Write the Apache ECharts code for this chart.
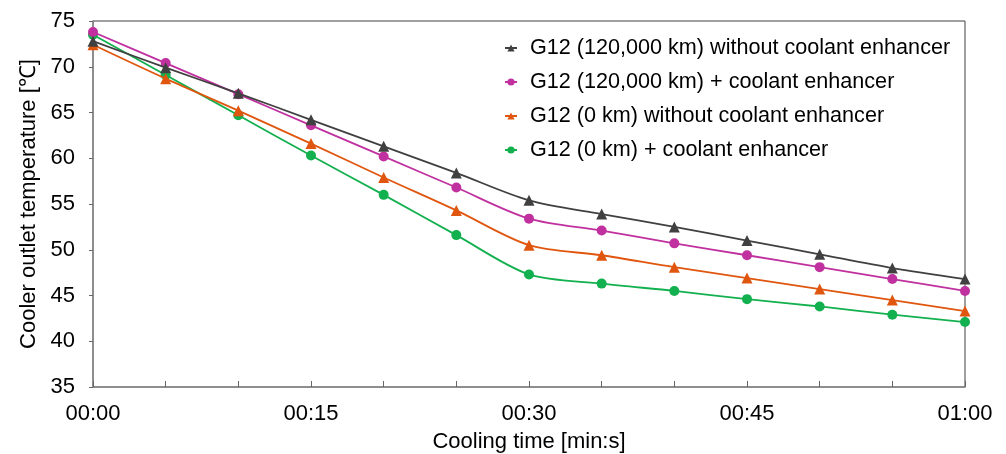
<!DOCTYPE html>
<html>
<head>
<meta charset="utf-8">
<script src="https://cdn.jsdelivr.net/npm/echarts@6/dist/echarts.min.js"></script>
<style>
html,body{margin:0;padding:0;background:#fff;}
#chart{width:1006px;height:454px;}
</style>
</head>
<body>
<div id="chart"></div>
<script>
// cooling time in seconds
var times = [0, 5, 10, 15, 20, 25, 30, 35, 40, 45, 50, 55, 60];
var names = [
	'G12 (120,000 km) without coolant enhancer',
	'G12 (120,000 km) + coolant enhancer',
	'G12 (0 km) without coolant enhancer',
	'G12 (0 km) + coolant enhancer'
];
var used_without = [72.8, 69.9, 67.1, 64.2, 61.3, 58.4, 55.4, 53.9, 52.5, 51.0, 49.5, 48.0, 46.8];
var used_with = [73.8, 70.4, 67.0, 63.6, 60.2, 56.8, 53.4, 52.1, 50.7, 49.4, 48.1, 46.8, 45.5];
var new_without = [72.4, 68.7, 65.2, 61.6, 57.9, 54.3, 50.5, 49.4, 48.1, 46.9, 45.7, 44.5, 43.3];
var new_with = [73.5, 69.1, 64.7, 60.3, 56.0, 51.6, 47.3, 46.3, 45.5, 44.6, 43.8, 42.9, 42.1];
var colors = ['#404040', '#C0309F', '#E0560F', '#12B04E'];
var symbols = ['triangle', 'circle', 'triangle', 'circle'];

function pairs(vals) {
	var data = [];
	for (var i = 0; i < times.length; i++) {
		data.push([times[i], vals[i]]);
	}
	return data;
}

function mmss(v) {
	var m = Math.floor(v / 60), s = v % 60;
	return (m < 10 ? '0' : '') + m + ':' + (s < 10 ? '0' : '') + s;
}

var allVals = [used_without, used_with, new_without, new_with];
var series = [];
for (var k = 0; k < 4; k++) {
	series.push({
		name: names[k],
		type: 'line',
		smooth: 0.3,
		data: pairs(allVals[k]),
		symbol: symbols[k],
		symbolSize: symbols[k] == 'triangle' ? 11 : 10,
		lineStyle: { color: colors[k], width: 1.8 },
		itemStyle: { color: colors[k] },
		z: 10 - k
	});
}

var font = 'Liberation Sans, Arial, sans-serif';
var myChart = echarts.init(document.getElementById('chart'), null, { renderer: 'canvas' });
var option = {
	animation: false,
	backgroundColor: '#fff',
	grid: {
		left: 93, top: 21, right: 41, bottom: 67,
		outerBoundsMode: 'none',
		containLabel: false,
		show: true, borderColor: '#404040', borderWidth: 1, backgroundColor: 'transparent'
	},
	legend: {
		left: 499, top: 32,
		orient: 'vertical',
		itemGap: 12,
		itemWidth: 12, itemHeight: 9,
		textStyle: { fontFamily: font, fontSize: 21.6, color: '#000', padding: [0, 0, 0, 8] },
		data: names
	},
	xAxis: {
		type: 'value',
		min: 0, max: 60, interval: 15,
		name: 'Cooling time [min:s]',
		nameLocation: 'middle',
		nameGap: 44,
		nameTextStyle: { fontFamily: font, fontSize: 22, color: '#000' },
		axisLine: { lineStyle: { color: '#888', width: 1.5 } },
		axisTick: { inside: true, length: 6, lineStyle: { color: '#666' } },
		minorTick: { show: true, splitNumber: 3, length: 6, lineStyle: { color: '#666' } },
		splitLine: { show: false },
		axisLabel: {
			margin: 16,
			fontFamily: font, fontSize: 22, color: '#000',
			formatter: function(v) { return mmss(v); }
		}
	},
	yAxis: {
		type: 'value',
		min: 35, max: 75, interval: 5,
		name: 'Cooler outlet temperature [℃]',
		nameLocation: 'middle',
		nameGap: 52,
		nameTextStyle: { fontFamily: font, fontSize: 22, color: '#000' },
		axisLine: { show: true, lineStyle: { color: '#888', width: 1.5 } },
		axisTick: { show: true, inside: false, length: 4, lineStyle: { color: '#666' } },
		splitLine: { show: false },
		axisLabel: { margin: 18, fontFamily: font, fontSize: 22, color: '#000' }
	},
	series: series
};
myChart.setOption(option);
</script>
</body>
</html>
